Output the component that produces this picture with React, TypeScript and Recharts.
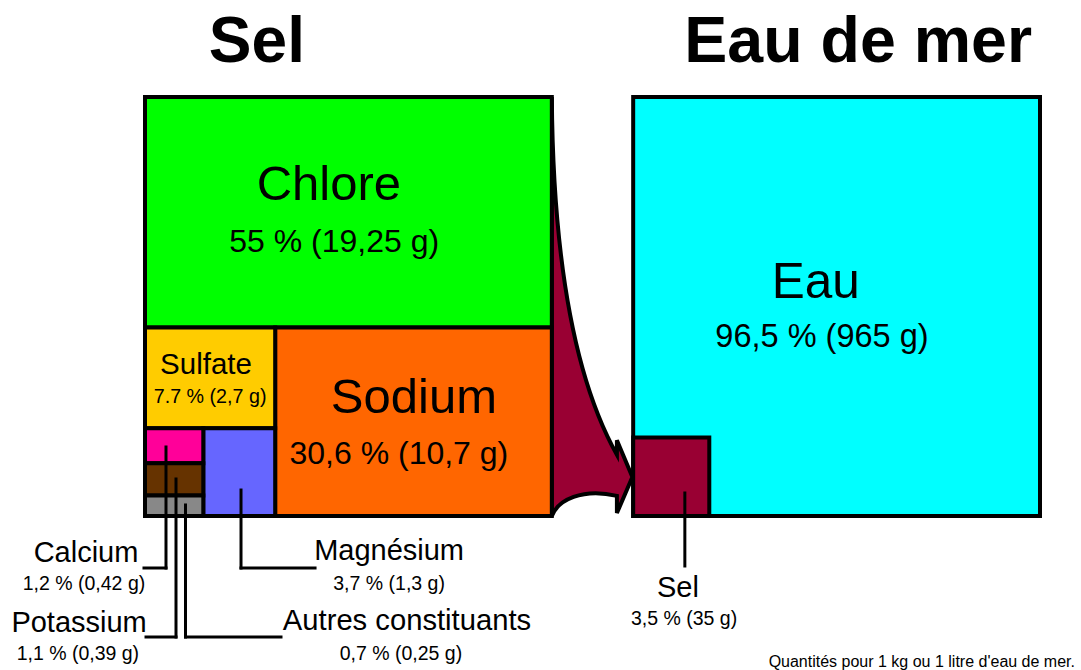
import React from 'react';
import { ComposedChart, XAxis, YAxis, ReferenceArea, ReferenceLine, ReferenceDot } from 'recharts';

// ---- Data ----
const saltNames = ['Chlore', 'Sodium', 'Sulfate', 'Magnésium', 'Calcium', 'Potassium', 'Autres constituants'];
const saltPercent = [55, 30.6, 7.7, 3.7, 1.2, 1.1, 0.7];
const saltPercentLabels = ['55 %', '30,6 %', '7.7 %', '3,7 %', '1,2 %', '1,1 %', '0,7 %'];
const saltGrams = ['19,25 g', '10,7 g', '2,7 g', '1,3 g', '0,42 g', '0,39 g', '0,25 g'];
const seaNames = ['Eau', 'Sel'];
const seaPercent = [96.5, 3.5];
const seaPercentLabels = ['96,5 %', '3,5 %'];
const seaGrams = ['965 g', '35 g'];
const titles = ['Sel', 'Eau de mer'];
const footnote = "Quantités pour 1 kg ou 1 litre d'eau de mer.";

// ---- Styles ----
const saltColors = ['#00ff00', '#ff6600', '#ffcc00', '#6666ff', '#ff0099', '#663300', '#888888'];
const seaColors = ['#00ffff', '#990033'];
const FONT = '"Liberation Sans", Arial, sans-serif';
const SEA_X0 = 120; // offset of second square in data units

type R = { x1: number; x2: number; y1: number; y2: number };

function layoutSalt(): R[] {
  const [chl, sod, sul, mag, cal, pot] = saltPercent;
  const hChl = chl;
  const hBottom = 100 - hChl;
  const wSod = (sod * 100) / hBottom;
  const wLeft = 100 - wSod;
  const hSul = (sul * 100) / wLeft;
  const hSmall = hBottom - hSul;
  const wMag = (mag * 100) / hSmall;
  const wTiny = wLeft - wMag;
  const hCal = (cal * 100) / wTiny;
  const hPot = (pot * 100) / wTiny;
  return [
    { x1: 0, x2: 100, y1: hBottom, y2: 100 },
    { x1: wLeft, x2: 100, y1: 0, y2: hBottom },
    { x1: 0, x2: wLeft, y1: hSmall, y2: hBottom },
    { x1: wTiny, x2: wLeft, y1: 0, y2: hSmall },
    { x1: 0, x2: wTiny, y1: hSmall - hCal, y2: hSmall },
    { x1: 0, x2: wTiny, y1: hSmall - hCal - hPot, y2: hSmall - hCal },
    { x1: 0, x2: wTiny, y1: 0, y2: hSmall - hCal - hPot },
  ];
}

function layoutSea(): R[] {
  const side = Math.sqrt(seaPercent[1] * 100);
  return [
    { x1: SEA_X0, x2: SEA_X0 + 100, y1: 0, y2: 100 },
    { x1: SEA_X0, x2: SEA_X0 + side, y1: 0, y2: side },
  ];
}

// annotation positions (data units)
type T = { x: number; y: number; text: string; size: number; anchor?: string; bold?: boolean };
const texts: T[] = [
  { x: 27.5, y: 108.4, text: titles[0], size: 64, bold: true },
  { x: 175.3, y: 108.4, text: titles[1], size: 64.5, bold: true },
  { x: 45.2, y: 75.4, text: saltNames[0], size: 49 },
  { x: 46.5, y: 63.0, text: `${saltPercentLabels[0]} (${saltGrams[0]})`, size: 32 },
  { x: 66.1, y: 24.6, text: saltNames[1], size: 49 },
  { x: 62.4, y: 12.4, text: `${saltPercentLabels[1]} (${saltGrams[1]})`, size: 32 },
  { x: 15.0, y: 33.9, text: saltNames[2], size: 29.5 },
  { x: 16.0, y: 27.0, text: `${saltPercentLabels[2]} (${saltGrams[2]})`, size: 19.7 },
  { x: 60.0, y: -10.5, text: saltNames[3], size: 29 },
  { x: 60.0, y: -17.7, text: `${saltPercentLabels[3]} (${saltGrams[3]})`, size: 19.5 },
  { x: -14.5, y: -11.0, text: saltNames[4], size: 29 },
  { x: -15.0, y: -17.7, text: `${saltPercentLabels[4]} (${saltGrams[4]})`, size: 19.5 },
  { x: -16.2, y: -27.7, text: saltNames[5], size: 29 },
  { x: -16.5, y: -34.4, text: `${saltPercentLabels[5]} (${saltGrams[5]})`, size: 19.5 },
  { x: 64.4, y: -27.2, text: saltNames[6], size: 29.2 },
  { x: 62.9, y: -34.4, text: `${saltPercentLabels[6]} (${saltGrams[6]})`, size: 19.5 },
  { x: 164.9, y: 52.0, text: seaNames[0], size: 49.5 },
  { x: 166.4, y: 40.3, text: `${seaPercentLabels[0]} (${seaGrams[0]})`, size: 32.5 },
  { x: 131.0, y: -19.3, text: seaNames[1], size: 29 },
  { x: 132.5, y: -26.0, text: `${seaPercentLabels[1]} (${seaGrams[1]})`, size: 19.5 },
  { x: 228.6, y: -36.0, text: footnote, size: 16, anchor: 'end' },
];

// leader lines: polylines in data units
const leaders: { x: number; y: number }[][] = [
  [{ x: 5.16, y: 16.47 }, { x: 5.16, y: -12.41 }, { x: -0.25, y: -12.41 }],
  [{ x: 7.62, y: 8.83 }, { x: 7.62, y: -28.88 }, { x: 0.25, y: -28.88 }],
  [{ x: 9.96, y: 2.63 }, { x: 9.96, y: -28.88 }, { x: 33.43, y: -28.88 }],
  [{ x: 23.6, y: 6.2 }, { x: 23.6, y: -12.41 }, { x: 41.8, y: -12.41 }],
  [{ x: 132.7, y: 5.49 }, { x: 132.7, y: -11.93 }],
];

const ArrowShape = (p: any) => {
  const { x, y, width: w, height: h } = p;
  const X = (f: number) => x + f * w;
  const Y = (f: number) => y + f * h;
  const d = `M ${X(0)} ${Y(0)} C ${X(0.015)} ${Y(0.389)} ${X(0.285)} ${Y(0.675)} ${X(0.8)} ${Y(0.854)} ` +
    `L ${X(0.8)} ${Y(0.819)} L ${X(0.99)} ${Y(0.907)} L ${X(0.8)} ${Y(0.993)} L ${X(0.8)} ${Y(0.952)} ` +
    `C ${X(0.371)} ${Y(0.933)} ${X(0.076)} ${Y(0.962)} ${X(0)} ${Y(1)} Z`;
  return <path d={d} fill={seaColors[1]} stroke="#000" strokeWidth={4} strokeLinejoin="miter" />;
};

export default function App() {
  const salt = layoutSalt();
  const sea = layoutSea();
  return (
    <div style={{ position: 'absolute', left: 0, top: 0, width: 1081, height: 670, overflow: 'hidden', background: '#fff' }}>
      <ComposedChart width={1081} height={670} data={[]} margin={{ top: 97, right: 41, bottom: 154, left: 145 }}>
        <XAxis type="number" dataKey="x" domain={[0, 220]} hide allowDataOverflow />
        <YAxis type="number" domain={[0, 100]} hide allowDataOverflow width={0} />
        <ReferenceArea x1={100} x2={SEA_X0} y1={0} y2={100} ifOverflow="visible" shape={ArrowShape} />
        {salt.map((r, i) => (
          <ReferenceArea key={'s' + i} {...r} fill={saltColors[i]} fillOpacity={1} stroke="#000" strokeWidth={4} ifOverflow="visible" />
        ))}
        {sea.map((r, i) => (
          <ReferenceArea key={'e' + i} {...r} fill={seaColors[i]} fillOpacity={1} stroke="#000" strokeWidth={4} ifOverflow="visible" />
        ))}
        {leaders.flatMap((pts, i) =>
          pts.slice(1).map((pt, j) => (
            <ReferenceLine key={`l${i}-${j}`} segment={[pts[j], pt]} stroke="#000" strokeWidth={3} strokeLinecap="square" ifOverflow="visible" />
          ))
        )}
        {texts.map((t, i) => (
          <ReferenceDot
            key={'t' + i}
            x={t.x}
            y={t.y}
            r={0}
            ifOverflow="visible"
            shape={(p: any) => (
              <text x={p.cx} y={p.cy} textAnchor={t.anchor || 'middle'} fontFamily={FONT} fontSize={t.size} fontWeight={t.bold ? 'bold' : 'normal'} fill="#000">
                {t.text}
              </text>
            )}
          />
        ))}
      </ComposedChart>
    </div>
  );
}
